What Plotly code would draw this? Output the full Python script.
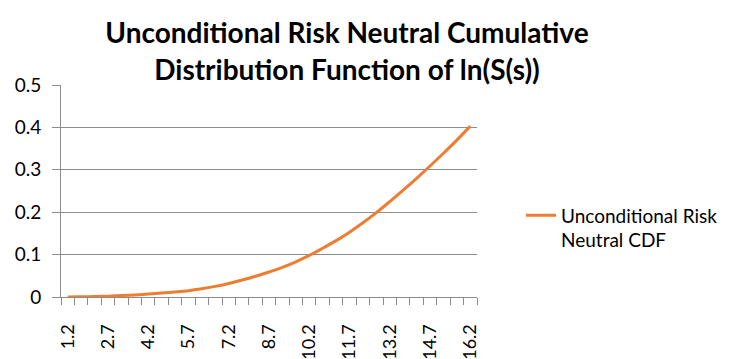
import plotly.graph_objects as go

# Category values (ln S) and CDF values
x_values = [1.2, 1.7, 2.2, 2.7, 3.2, 3.7, 4.2, 4.7, 5.2, 5.7, 6.2, 6.7, 7.2, 7.7, 8.2, 8.7,
            9.2, 9.7, 10.2, 10.7, 11.2, 11.7, 12.2, 12.7, 13.2, 13.7, 14.2, 14.7, 15.2, 15.7, 16.2]
cdf_values = [0.0002, 0.0005, 0.0011, 0.0020, 0.0033, 0.0050, 0.0070, 0.0095, 0.0120, 0.0150,
              0.0195, 0.0250, 0.0320, 0.0400, 0.0490, 0.0590, 0.0700, 0.0830, 0.0980, 0.1150,
              0.1330, 0.1530, 0.1750, 0.1990, 0.2250, 0.2520, 0.2800, 0.3090, 0.3390, 0.3700, 0.4030]
tick_labels = ["1.2", "2.7", "4.2", "5.7", "7.2", "8.7", "10.2", "11.7", "13.2", "14.7", "16.2"]
tick_positions = [float(t) for t in tick_labels]
y_ticks = [0, 0.1, 0.2, 0.3, 0.4, 0.5]
y_tick_text = ["0", "0.1", "0.2", "0.3", "0.4", "0.5"]

FONT = "Lato"
GRID = "#8c8c8c"

# The page body adds an 8px offset; the figure is sized to fill the rest of the window.
W, H = 724, 351

fig = go.Figure()
fig.add_trace(go.Scatter(
    x=x_values, y=cdf_values, mode="lines",
    name="Unconditional Risk<br>Neutral CDF",
    line=dict(color="#ED7D31", width=3, shape="spline"),
))

fig.update_layout(
    width=W, height=H,
    margin=dict(l=53, r=255, t=77, b=62, autoexpand=False),
    paper_bgcolor="white", plot_bgcolor="white",
    font=dict(family=FONT, size=19, color="#000000"),
    title=dict(
        text="<b>Unconditional Risk Neutral Cumulative<br>Distribution Function of ln(S(s))</b>",
        font=dict(family=FONT, size=28, color="#000000"),
        x=339 / W, xanchor="center", y=0.90, yanchor="top",
    ),
    showlegend=True,
    legend=dict(
        x=(513 - 53) / 416, xanchor="left", y=0.475, yanchor="top",
        valign="top", font=dict(family=FONT, size=19, color="#000000"),
        bgcolor="rgba(0,0,0,0)", itemwidth=30,
    ),
)

fig.update_xaxes(
    range=[0.95, 16.45], automargin=False,
    tickmode="array", tickvals=tick_positions, ticktext=tick_labels,
    tickangle=-90, ticks="", showgrid=False, zeroline=False,
    showline=True, linecolor=GRID, linewidth=1,
    ticklabelstandoff=19,
    minor=dict(ticks="outside", ticklen=7, tickcolor=GRID, tick0=0.95, dtick=0.5, showgrid=False),
    tickfont=dict(family=FONT, size=18, color="#000000"),
)
fig.update_yaxes(
    range=[0, 0.5], automargin=False,
    tickmode="array", tickvals=y_ticks, ticktext=y_tick_text,
    ticks="outside", ticklen=8, tickcolor=GRID,
    ticklabelstandoff=7,
    showgrid=True, gridcolor=GRID, gridwidth=1, zeroline=False,
    showline=True, linecolor=GRID, linewidth=1,
    tickfont=dict(family=FONT, size=19, color="#000000"),
)

fig.write_html("out.html")
